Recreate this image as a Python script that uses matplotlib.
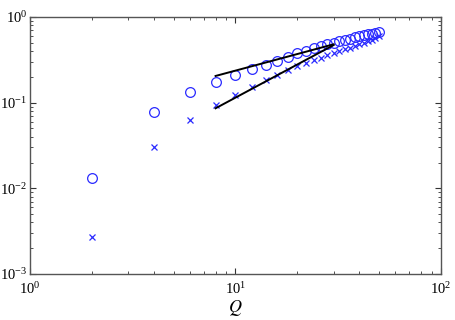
import matplotlib
matplotlib.use("Agg")
import matplotlib.pyplot as plt
from matplotlib.ticker import LogLocator, NullFormatter

plt.rcParams['font.family'] = ['Liberation Serif', 'DejaVu Serif']
plt.rcParams['mathtext.fontset'] = 'stix'

Q = [2, 4, 6, 8, 10, 12, 14, 16, 18, 20, 22, 24, 26, 28, 30, 32, 34, 36, 38, 40, 42, 44, 46, 48, 50]
circles = [0.0133, 0.077, 0.132, 0.176, 0.212, 0.248, 0.275, 0.309, 0.344, 0.377, 0.405, 0.431, 0.459, 0.480,
           0.500, 0.520, 0.540, 0.560, 0.578, 0.595, 0.611, 0.626, 0.641, 0.655, 0.668]
crosses = [0.0027, 0.0307, 0.063, 0.093, 0.124, 0.151, 0.183, 0.211, 0.240, 0.265, 0.290, 0.313, 0.336, 0.357,
           0.377, 0.398, 0.418, 0.438, 0.458, 0.478, 0.499, 0.520, 0.542, 0.568, 0.600]

line_Q = [8, 30]
circle_fit = [0.205, 0.48]
cross_fit = [0.086, 0.47]

fig = plt.figure(figsize=(4.56, 3.2), dpi=100)
ax = fig.add_axes([30/456, 46/320, 411/456, 257/320])

ax.plot(Q, circles, linestyle='none', marker='o', markersize=7, markerfacecolor='none',
        markeredgecolor='#2a2aff', markeredgewidth=0.9)
ax.plot(Q, crosses, linestyle='none', marker='x', markersize=4.5,
        markeredgecolor='#2a2aff', markeredgewidth=0.9)
ax.plot(line_Q, circle_fit, color='black', linewidth=1.4)
ax.plot(line_Q, cross_fit, color='black', linewidth=1.4)

ax.set_xscale('log')
ax.set_yscale('log')
ax.set_xlim(1, 100)
ax.set_ylim(1e-3, 1)
ax.xaxis.set_major_locator(LogLocator(base=10, numticks=10))
ax.yaxis.set_major_locator(LogLocator(base=10, numticks=10))
ax.xaxis.set_minor_locator(LogLocator(base=10, subs=range(2, 10), numticks=20))
ax.yaxis.set_minor_locator(LogLocator(base=10, subs=range(2, 10), numticks=20))
ax.xaxis.set_minor_formatter(NullFormatter())
ax.yaxis.set_minor_formatter(NullFormatter())

for s in ax.spines.values():
    s.set_color('#555555')
    s.set_linewidth(1.0)
ax.tick_params(which='both', direction='in', top=True, right=True, colors='#333333',
               labelcolor='black', labelsize=10.5)
ax.tick_params(which='major', length=4, width=0.8)
ax.tick_params(which='minor', length=2, width=0.6)
ax.tick_params(axis='x', pad=5)
ax.tick_params(axis='y', pad=2)

ax.set_xlabel('$Q$', fontsize=13, labelpad=1)

fig.savefig('out.png', dpi=100)
